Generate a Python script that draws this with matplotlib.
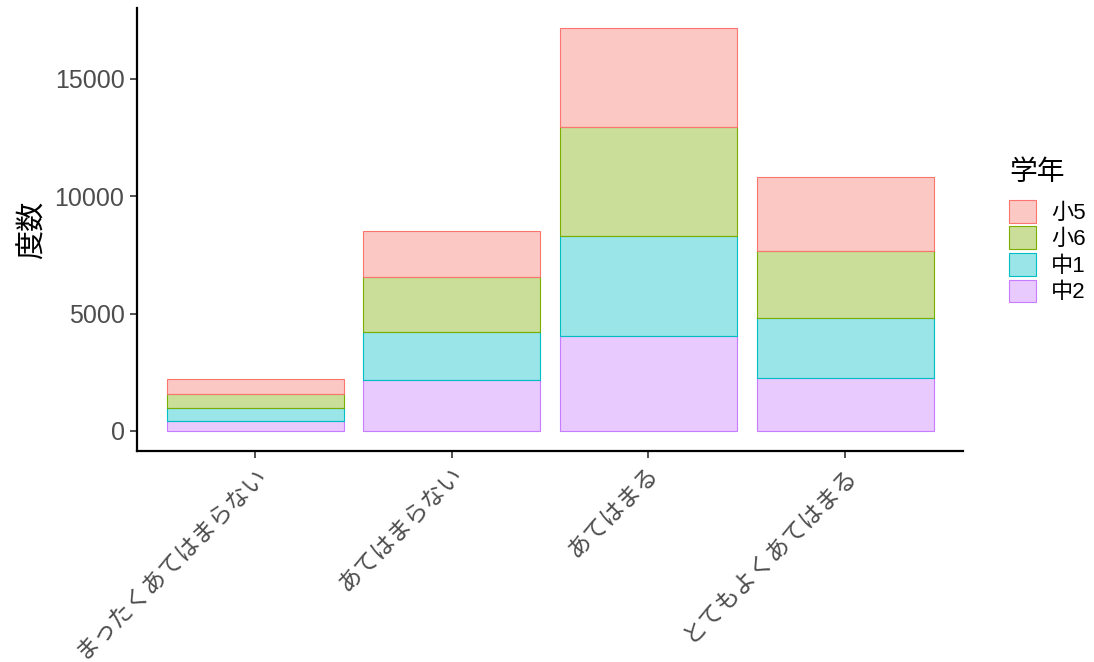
import numpy as np
import matplotlib
matplotlib.use('Agg')
import matplotlib.pyplot as plt
from matplotlib.patches import Patch

plt.rcParams['font.family'] = ['Liberation Sans', 'Noto Sans CJK JP', 'DejaVu Sans']

categories = ['まったくあてはまらない', 'あてはまらない', 'あてはまる', 'とてもよくあてはまる']
grades = ['小5', '小6', '中1', '中2']
chu2 = [413, 2173, 4060, 2271]
chu1 = [554, 2032, 4236, 2544]
sho6 = [609, 2345, 4644, 2870]
sho5 = [640, 1985, 4220, 3125]
yticks = [0, 5000, 10000, 15000]

colors = {'小5': '#F8766D', '小6': '#7CAE00', '中1': '#00BFC4', '中2': '#C77CFF'}

fig = plt.figure(figsize=(10.94, 6.62), dpi=100)
ax = fig.add_axes([137 / 1094, 1 - 451 / 662, (963 - 137) / 1094, (451 - 8) / 662])

x = np.arange(1, len(categories) + 1)
bottom = np.zeros(len(categories))
# stack from bottom: 中2, 中1, 小6, 小5
for name, vals in [('中2', chu2), ('中1', chu1), ('小6', sho6), ('小5', sho5)]:
    c = colors[name]
    ax.bar(x, vals, width=0.9, bottom=bottom, facecolor=matplotlib.colors.to_rgba(c, 0.4),
           edgecolor=c, linewidth=0.8)
    bottom += np.array(vals)

total_max = bottom.max()
ax.set_xlim(0.4, len(categories) + 0.6)
ax.set_ylim(-0.05 * total_max, total_max * 1.05)

ax.set_xticks(x)
ax.set_xticklabels(categories, rotation=45, ha='right', va='top', rotation_mode='anchor',
                   fontsize=17, color='#4D4D4D')
ax.set_yticks(yticks)
ax.set_yticklabels([str(v) for v in yticks], fontsize=18, color='#4D4D4D')
ax.tick_params(axis='both', length=5, width=1.2, color='#333333', pad=4)
ax.set_ylabel('度数', fontsize=21, labelpad=6)

for side in ['top', 'right']:
    ax.spines[side].set_visible(False)
for side in ['left', 'bottom']:
    ax.spines[side].set_linewidth(1.6)
    ax.spines[side].set_color('black')

handles = [Patch(facecolor=matplotlib.colors.to_rgba(colors[g], 0.4), edgecolor=colors[g], linewidth=0.8)
           for g in grades]
leg = fig.legend(handles, grades, loc='upper left', bbox_to_anchor=(1009 / 1094, 1 - 160 / 662),
                 frameon=False, title='学年', fontsize=16, title_fontsize=20, alignment='left',
                 handlelength=1.2, handleheight=1.2, labelspacing=0.12, handletextpad=0.7,
                 borderpad=0, borderaxespad=0)
leg._legend_box.sep = 10

fig.savefig('out.png', dpi=100)
